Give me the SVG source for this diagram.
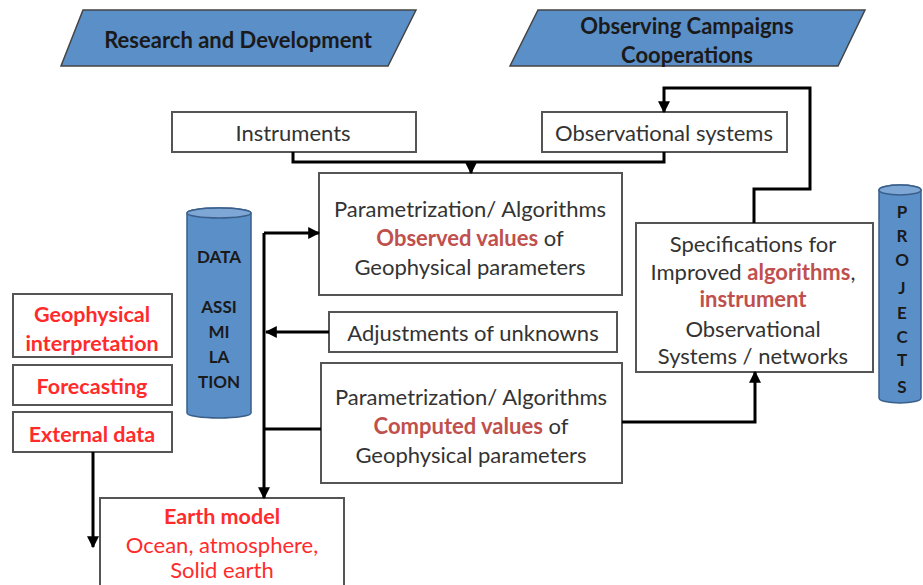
<svg xmlns="http://www.w3.org/2000/svg" width="923" height="585" viewBox="0 0 923 585">
<defs>
<style>
.box{fill:#fff;stroke:#555;stroke-width:2}
.para{fill:#5b8fc8;stroke:#444;stroke-width:1.5}
.cyl{fill:#5b8fc8;stroke:#3a5f8a;stroke-width:1.5}
.t{font-family:Lato,"Liberation Sans",Arial,sans-serif;font-size:22px;fill:#333;text-anchor:middle}
.b{font-weight:bold;font-size:21.5px}
.hd{font-family:Lato,"Liberation Sans",Arial,sans-serif;font-size:22px;font-weight:bold;fill:#1a1a1a;text-anchor:middle}
.cy{font-family:Lato,"Liberation Sans",Arial,sans-serif;font-size:17px;font-weight:bold;fill:#1a1a1a;text-anchor:middle}
.red{fill:#ff2b2b}
.dred{fill:#c0504d;font-weight:bold}
.conn{fill:none;stroke:#000;stroke-width:3}
</style>
<marker id="ah" viewBox="0 0 10 10" refX="9" refY="5" markerWidth="4" markerHeight="4" orient="auto" markerUnits="strokeWidth">
<path d="M0,0 L10,5 L0,10 z" fill="#000"/>
</marker>
</defs>

<g id="research">
<polygon class="para" points="83,10 416,10 388,66 61,66"/>
<text class="hd" x="238" y="48">Research and Development</text>
</g>

<g id="observing">
<polygon class="para" points="538,10 865,10 838,66 510,66"/>
<text class="hd" x="687" y="34">Observing Campaigns</text>
<text class="hd" x="687" y="63">Cooperations</text>
</g>

<g id="instruments">
<rect class="box" x="172" y="112" width="244" height="40"/>
<text class="t" x="293" y="141">Instruments</text>
</g>

<g id="obs-systems">
<rect class="box" x="542" y="112" width="245" height="40"/>
<text class="t" x="664" y="141">Observational systems</text>
</g>

<g id="param-observed">
<rect class="box" x="319" y="173" width="303" height="122"/>
<text class="t" x="470" y="217">Parametrization/ Algorithms</text>
<text class="t" x="470" y="246"><tspan class="dred">Observed values</tspan> of</text>
<text class="t" x="470" y="275">Geophysical parameters</text>
</g>

<g id="adjustments">
<rect class="box" x="329" y="312" width="288" height="40"/>
<text class="t" x="473" y="341">Adjustments of unknowns</text>
</g>

<g id="param-computed">
<rect class="box" x="321" y="363" width="301" height="120"/>
<text class="t" x="471" y="405">Parametrization/ Algorithms</text>
<text class="t" x="471" y="434"><tspan class="dred">Computed values</tspan> of</text>
<text class="t" x="471" y="463">Geophysical parameters</text>
</g>

<g id="specifications">
<rect class="box" x="636" y="223" width="237" height="149"/>
<text class="t" x="753" y="252">Specifications for</text>
<text class="t" x="753" y="280">Improved <tspan class="dred">algorithms</tspan>,</text>
<text class="t" x="753" y="307"><tspan class="dred">instrument</tspan></text>
<text class="t" x="753" y="337">Observational</text>
<text class="t" x="753" y="364">Systems / networks</text>
</g>

<g id="data-assimilation">
<path class="cyl" d="M187,213 L187,413 A32,5 0 0 0 251,413 L251,213 A32,5 0 0 0 187,213 z"/>
<ellipse cx="219" cy="213" rx="32" ry="5" fill="#7ea7d6" stroke="#3a5f8a" stroke-width="1.5"/>
<text class="cy" x="219" y="263">DATA</text>
<text class="cy" x="219" y="313">ASSI</text>
<text class="cy" x="219" y="338">MI</text>
<text class="cy" x="219" y="363">LA</text>
<text class="cy" x="219" y="388">TION</text>
</g>

<g id="projects">
<path class="cyl" d="M879,190 L879,398 A21,5 0 0 0 921,398 L921,190 A21,5 0 0 0 879,190 z"/>
<ellipse cx="900" cy="190" rx="21" ry="5" fill="#7ea7d6" stroke="#3a5f8a" stroke-width="1.5"/>
<text class="cy" x="902" y="218">P</text>
<text class="cy" x="902" y="242">R</text>
<text class="cy" x="902" y="266">O</text>
<text class="cy" x="902" y="294">J</text>
<text class="cy" x="902" y="319">E</text>
<text class="cy" x="902" y="343">C</text>
<text class="cy" x="902" y="366">T</text>
<text class="cy" x="902" y="393">S</text>
</g>

<g id="geo-interp">
<rect class="box" x="13" y="294" width="159" height="63"/>
<text class="t b red" x="92" y="322">Geophysical</text>
<text class="t b red" x="92" y="351">interpretation</text>
</g>

<g id="forecasting">
<rect class="box" x="13" y="365" width="159" height="40"/>
<text class="t b red" x="92" y="394">Forecasting</text>
</g>

<g id="external">
<rect class="box" x="13" y="412" width="159" height="40"/>
<text class="t b red" x="92" y="442">External data</text>
</g>

<g id="earth-model">
<rect class="box" x="100" y="498" width="244" height="100"/>
<text class="t b red" x="222" y="524">Earth model</text>
<text class="t red" x="222" y="553">Ocean, atmosphere,</text>
<text class="t red" x="222" y="578">Solid earth</text>
</g>

<g id="connectors">
<polyline class="conn" points="293,152 293,162 664,162 664,152"/>
<line class="conn" x1="471" y1="162" x2="471" y2="173" marker-end="url(#ah)"/>
<polyline class="conn" points="754,223 754,189 810,189 810,88 664,88 664,112" marker-end="url(#ah)"/>
<polyline class="conn" points="264,233 319,233" marker-end="url(#ah)"/>
<polyline class="conn" points="264,233 264,498" marker-end="url(#ah)"/>
<polyline class="conn" points="329,332 266,332" marker-end="url(#ah)"/>
<polyline class="conn" points="264,429 321,429"/>
<polyline class="conn" points="622,422 755,422 755,372" marker-end="url(#ah)"/>
<polyline class="conn" points="93,452 93,547" marker-end="url(#ah)"/>
</g>
</svg>
